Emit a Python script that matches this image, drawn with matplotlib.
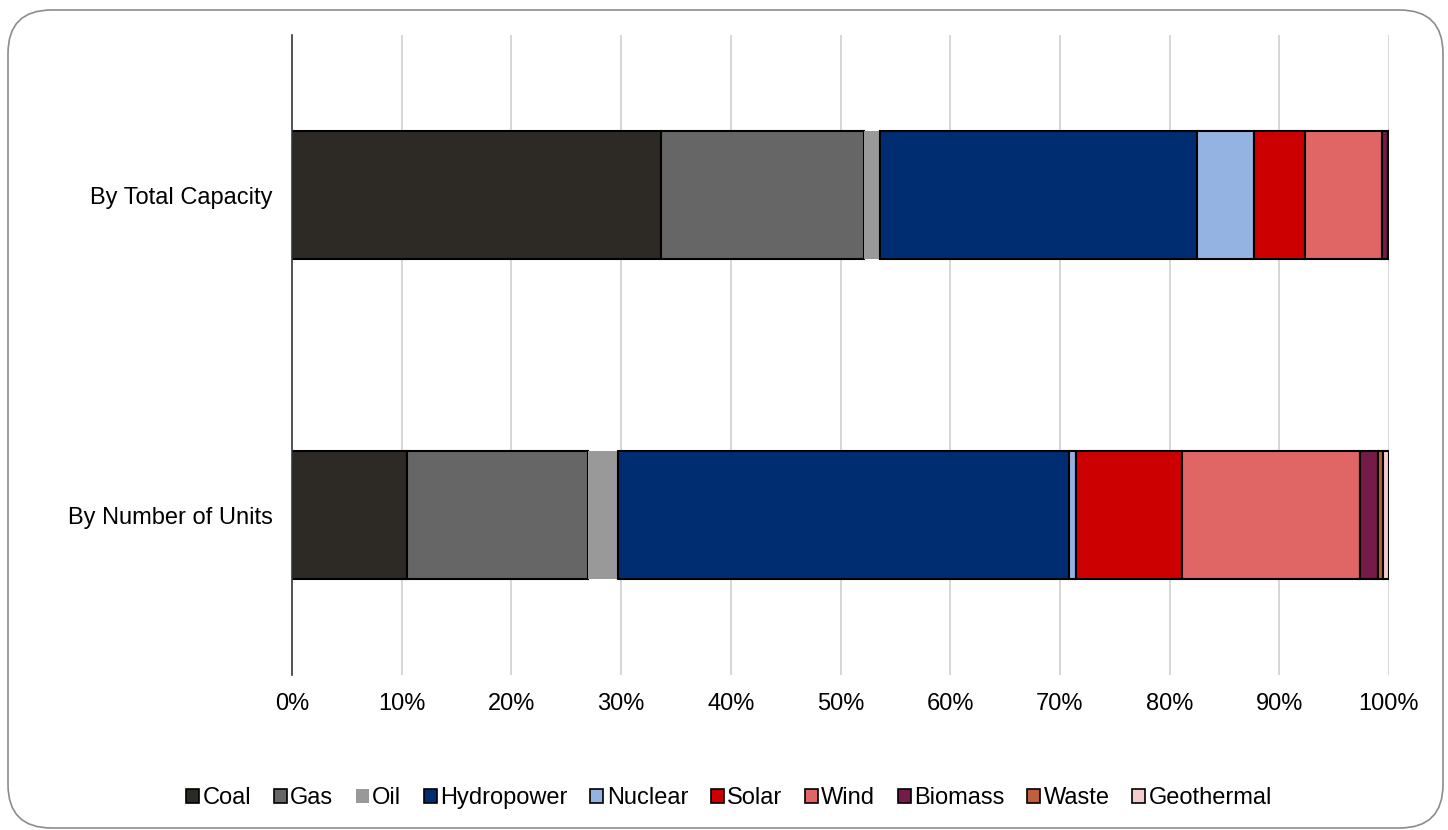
import matplotlib
matplotlib.use("Agg")
import matplotlib.pyplot as plt
from matplotlib.patches import FancyBboxPatch, Patch
from matplotlib.ticker import PercentFormatter, MultipleLocator

plt.rcParams['font.family'] = ['Liberation Sans', 'DejaVu Sans']

categories = ["By Number of Units", "By Total Capacity"]
sources = ["Coal", "Gas", "Oil", "Hydropower", "Nuclear", "Solar", "Wind",
           "Biomass", "Waste", "Geothermal"]
# shares (%) : [By Number of Units, By Total Capacity]
coal = [10.5, 33.6]
gas = [16.45, 18.5]
oil = [2.75, 1.5]
hydropower = [41.1, 28.9]
nuclear = [0.7, 5.2]
solar = [9.6, 4.6]
wind = [16.3, 7.1]
biomass = [1.6, 0.5]
waste = [0.45, 0.05]
geothermal = [0.55, 0.05]
series = [coal, gas, oil, hydropower, nuclear, solar, wind, biomass, waste, geothermal]

colors = ["#2d2a26", "#666666", "#999999", "#002d72", "#95b3e2", "#cc0000",
          "#e06666", "#741b47", "#c0603a", "#f4cccc"]
edges = ["black", "black", "none", "black", "black", "black", "black",
         "black", "black", "black"]

fig = plt.figure(figsize=(14.48, 8.3), dpi=100)
border = FancyBboxPatch((8 / 1448, 2 / 830), 1435 / 1448, 818 / 830,
                        boxstyle="round,pad=0,rounding_size=0.03",
                        transform=fig.transFigure, facecolor="white",
                        edgecolor="#8c8c8c", linewidth=1.2,
                        mutation_aspect=1448 / 830, zorder=-10)
fig.patches.append(border)

ax = fig.add_axes([292 / 1448, 1 - 675 / 830, (1389 - 292) / 1448, 640 / 830])
ax.set_facecolor("none")

left = [0.0, 0.0]
ypos = list(range(len(categories)))
for vals, c, e in zip(series, colors, edges):
    ax.barh(ypos, vals, left=left, height=0.4, color=c, edgecolor=e,
            linewidth=1.5 if e != "none" else 0, zorder=3)
    left = [l + v for l, v in zip(left, vals)]

ax.set_xlim(0, 100)
ax.set_ylim(-0.5, 1.5)
ax.xaxis.set_major_locator(MultipleLocator(10))
ax.xaxis.set_major_formatter(PercentFormatter(decimals=0))
ax.set_yticks(ypos)
ax.set_yticklabels(categories)
ax.tick_params(axis="both", length=0, labelsize=17, colors="black")
ax.tick_params(axis="x", pad=13)
ax.tick_params(axis="y", pad=14)
ax.grid(axis="x", color="#d0d0d0", linewidth=1.2, zorder=0)
for s in ["top", "right", "bottom"]:
    ax.spines[s].set_visible(False)
ax.spines["left"].set_color("#3a3a3a")
ax.spines["left"].set_linewidth(1.2)
ax.spines["left"].set_zorder(4)

handles = [Patch(facecolor=c, edgecolor=("black" if e != "none" else "none"),
                 linewidth=1.2, label=s)
           for s, c, e in zip(sources, colors, edges)]
fig.legend(handles=handles, loc="center", bbox_to_anchor=(729 / 1448, 1 - 798 / 830),
           ncol=10, frameon=False, fontsize=17, handlelength=0.55, handleheight=0.55,
           handletextpad=0.15, columnspacing=0.95)

fig.savefig("out.png", dpi=100)
